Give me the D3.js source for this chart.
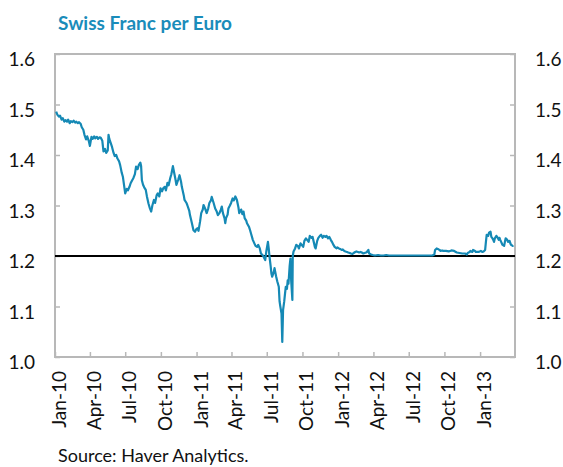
<!DOCTYPE html>
<html>
<head>
<meta charset="utf-8">
<script src="https://cdn.jsdelivr.net/npm/d3@7"></script>
<style>
  body { margin: 0; background: #fff; }
  svg { display: block; }
  text { font-family: Lato, "Open Sans", sans-serif; }
</style>
</head>
<body>
<svg width="563" height="467"></svg>
<script>
// EUR/CHF
const fx2010 = [
  ["2010-01-04",1.486],["2010-01-07",1.480],["2010-01-11",1.476],["2010-01-14",1.478],
  ["2010-01-18",1.470],["2010-01-21",1.473],["2010-01-25",1.466],["2010-01-28",1.469],
  ["2010-02-01",1.466],["2010-02-04",1.470],["2010-02-08",1.463],["2010-02-11",1.467],
  ["2010-02-15",1.465],["2010-02-18",1.468],["2010-02-22",1.464],["2010-02-25",1.466],
  ["2010-03-01",1.463],["2010-03-04",1.465],["2010-03-08",1.462],["2010-03-11",1.455],
  ["2010-03-15",1.450],["2010-03-18",1.440],["2010-03-22",1.431],["2010-03-25",1.437],
  ["2010-03-29",1.428],["2010-04-01",1.418],["2010-04-05",1.436],["2010-04-08",1.432],
  ["2010-04-12",1.437],["2010-04-15",1.433],["2010-04-19",1.436],["2010-04-22",1.432],
  ["2010-04-26",1.435],["2010-04-29",1.434],["2010-05-03",1.428],["2010-05-06",1.407],
  ["2010-05-10",1.412],["2010-05-13",1.404],["2010-05-17",1.409],["2010-05-19",1.440],
  ["2010-05-21",1.432],["2010-05-25",1.423],["2010-05-28",1.416],["2010-06-01",1.404],
  ["2010-06-04",1.398],["2010-06-08",1.400],["2010-06-11",1.393],["2010-06-15",1.388],
  ["2010-06-18",1.380],["2010-06-22",1.365],["2010-06-25",1.357],["2010-06-29",1.335],
  ["2010-07-01",1.324],["2010-07-05",1.333],["2010-07-08",1.330],["2010-07-12",1.337],
  ["2010-07-15",1.344],["2010-07-19",1.350],["2010-07-22",1.354],["2010-07-26",1.362],
  ["2010-07-29",1.377],["2010-08-02",1.372],["2010-08-05",1.380],["2010-08-09",1.385],
  ["2010-08-11",1.378],["2010-08-13",1.350],["2010-08-16",1.341],["2010-08-19",1.336],
  ["2010-08-23",1.331],["2010-08-26",1.318],["2010-08-30",1.304],["2010-09-02",1.296],
  ["2010-09-06",1.288],["2010-09-09",1.300],["2010-09-13",1.311],["2010-09-16",1.305],
  ["2010-09-20",1.320],["2010-09-23",1.324],["2010-09-27",1.318],["2010-09-30",1.334],
  ["2010-10-04",1.328],["2010-10-07",1.334],["2010-10-11",1.337],["2010-10-14",1.330],
  ["2010-10-18",1.345],["2010-10-21",1.340],["2010-10-25",1.354],["2010-10-28",1.362],
  ["2010-11-01",1.378],["2010-11-04",1.366],["2010-11-08",1.350],["2010-11-10",1.341],
  ["2010-11-15",1.352],["2010-11-18",1.360],["2010-11-22",1.347],["2010-11-24",1.337],
  ["2010-11-29",1.320],["2010-12-01",1.311],["2010-12-06",1.305],["2010-12-08",1.301],
  ["2010-12-13",1.290],["2010-12-15",1.281],["2010-12-20",1.265],["2010-12-24",1.251],
  ["2010-12-28",1.248],["2010-12-31",1.253]
];
const fx2011 = [
  ["2011-01-03",1.255],["2011-01-06",1.250],["2011-01-10",1.268],["2011-01-13",1.285],
  ["2011-01-17",1.292],["2011-01-19",1.301],["2011-01-24",1.292],["2011-01-27",1.285],
  ["2011-01-31",1.294],["2011-02-03",1.305],["2011-02-07",1.310],["2011-02-09",1.317],
  ["2011-02-14",1.305],["2011-02-18",1.294],["2011-02-22",1.288],["2011-02-25",1.281],
  ["2011-03-01",1.285],["2011-03-04",1.290],["2011-03-07",1.298],["2011-03-10",1.285],
  ["2011-03-14",1.275],["2011-03-16",1.265],["2011-03-18",1.275],["2011-03-22",1.282],
  ["2011-03-24",1.294],["2011-03-28",1.300],["2011-03-31",1.305],["2011-04-04",1.314],
  ["2011-04-07",1.310],["2011-04-11",1.318],["2011-04-15",1.311],["2011-04-19",1.296],
  ["2011-04-21",1.285],["2011-04-26",1.292],["2011-04-29",1.283],["2011-05-02",1.288],
  ["2011-05-05",1.275],["2011-05-09",1.270],["2011-05-11",1.265],["2011-05-16",1.258],
  ["2011-05-19",1.251],["2011-05-23",1.240],["2011-05-26",1.232],["2011-05-30",1.225],
  ["2011-06-02",1.220],["2011-06-06",1.218],["2011-06-09",1.222],["2011-06-13",1.215],
  ["2011-06-16",1.205],["2011-06-20",1.202],["2011-06-23",1.198],["2011-06-27",1.192],
  ["2011-06-30",1.210],["2011-07-04",1.228],["2011-07-06",1.215],["2011-07-08",1.199],
  ["2011-07-11",1.180],["2011-07-13",1.165],["2011-07-15",1.159],["2011-07-19",1.168],
  ["2011-07-21",1.176],["2011-07-25",1.160],["2011-07-28",1.150],["2011-08-01",1.139],
  ["2011-08-03",1.110],["2011-08-05",1.100],["2011-08-08",1.086],["2011-08-10",1.030],
  ["2011-08-12",1.093],["2011-08-15",1.110],["2011-08-17",1.125],["2011-08-19",1.139],
  ["2011-08-22",1.135],["2011-08-24",1.152],["2011-08-26",1.145],["2011-08-29",1.180],
  ["2011-08-31",1.195],["2011-09-02",1.150],["2011-09-05",1.113],["2011-09-06",1.200],
  ["2011-09-08",1.209],["2011-09-12",1.215],["2011-09-15",1.222],["2011-09-19",1.220],
  ["2011-09-22",1.215],["2011-09-26",1.225],["2011-09-29",1.222],["2011-10-03",1.218],
  ["2011-10-06",1.230],["2011-10-10",1.235],["2011-10-13",1.232],["2011-10-17",1.228],
  ["2011-10-20",1.240],["2011-10-24",1.236],["2011-10-27",1.238],["2011-10-31",1.225],
  ["2011-11-02",1.218],["2011-11-04",1.215],["2011-11-08",1.230],["2011-11-11",1.236],
  ["2011-11-15",1.240],["2011-11-18",1.242],["2011-11-22",1.236],["2011-11-25",1.240],
  ["2011-11-29",1.238],["2011-12-02",1.240],["2011-12-06",1.235],["2011-12-09",1.238],
  ["2011-12-13",1.232],["2011-12-16",1.228],["2011-12-20",1.222],["2011-12-23",1.218],
  ["2011-12-28",1.215],["2011-12-30",1.217]
];
const fx2012 = [
  ["2012-01-03",1.215],["2012-01-06",1.214],["2012-01-10",1.212],["2012-01-13",1.213],
  ["2012-01-17",1.210],["2012-01-20",1.209],["2012-01-24",1.208],["2012-01-27",1.207],
  ["2012-01-31",1.206],["2012-02-03",1.205],["2012-02-07",1.204],["2012-02-10",1.206],
  ["2012-02-14",1.208],["2012-02-17",1.209],["2012-02-21",1.208],["2012-02-24",1.207],
  ["2012-02-28",1.208],["2012-03-02",1.207],["2012-03-06",1.205],["2012-03-09",1.206],
  ["2012-03-13",1.207],["2012-03-15",1.208],["2012-03-19",1.212],["2012-03-21",1.205],
  ["2012-03-26",1.203],["2012-03-30",1.202],["2012-04-05",1.201],["2012-04-13",1.202],
  ["2012-04-20",1.201],["2012-04-27",1.201],["2012-05-04",1.202],["2012-05-11",1.201],
  ["2012-05-18",1.201],["2012-05-25",1.201],["2012-06-01",1.201],["2012-06-08",1.201],
  ["2012-06-15",1.201],["2012-06-22",1.201],["2012-06-29",1.201],["2012-07-06",1.201],
  ["2012-07-13",1.201],["2012-07-20",1.201],["2012-07-27",1.201],["2012-08-03",1.201],
  ["2012-08-10",1.201],["2012-08-17",1.201],["2012-08-24",1.201],["2012-08-31",1.201],
  ["2012-09-05",1.203],["2012-09-07",1.212],["2012-09-11",1.215],["2012-09-14",1.214],
  ["2012-09-18",1.212],["2012-09-21",1.210],["2012-09-25",1.211],["2012-09-28",1.210],
  ["2012-10-05",1.210],["2012-10-12",1.209],["2012-10-19",1.211],["2012-10-26",1.210],
  ["2012-11-02",1.207],["2012-11-09",1.206],["2012-11-16",1.205],["2012-11-23",1.205],
  ["2012-11-28",1.203],["2012-11-30",1.206],["2012-12-05",1.208],["2012-12-07",1.210],
  ["2012-12-12",1.208],["2012-12-14",1.212],["2012-12-19",1.210],["2012-12-21",1.208],
  ["2012-12-28",1.208]
];
const fx2013 = [
  ["2013-01-03",1.210],["2013-01-07",1.208],["2013-01-10",1.209],["2013-01-14",1.212],
  ["2013-01-16",1.228],["2013-01-18",1.242],["2013-01-22",1.240],["2013-01-24",1.246],
  ["2013-01-28",1.248],["2013-01-30",1.238],["2013-02-01",1.236],["2013-02-04",1.232],
  ["2013-02-06",1.228],["2013-02-08",1.235],["2013-02-12",1.240],["2013-02-14",1.238],
  ["2013-02-18",1.232],["2013-02-20",1.236],["2013-02-22",1.232],["2013-02-26",1.225],
  ["2013-02-28",1.222],["2013-03-04",1.220],["2013-03-06",1.228],["2013-03-08",1.235],
  ["2013-03-12",1.232],["2013-03-14",1.228],["2013-03-18",1.230],["2013-03-20",1.225],
  ["2013-03-22",1.222],["2013-03-26",1.220],["2013-03-28",1.221]
];

const xTickLabels = ["Jan-10","Apr-10","Jul-10","Oct-10","Jan-11","Apr-11","Jul-11",
  "Oct-11","Jan-12","Apr-12","Jul-12","Oct-12","Jan-13"];
const yTicks = [1.0, 1.1, 1.2, 1.3, 1.4, 1.5, 1.6];
const floorLevel = 1.2;

const parseDay = d3.timeParse("%Y-%m-%d");
const parseTick = d3.timeParse("%b-%y");
const series = fx2010.concat(fx2011, fx2012, fx2013)
  .map((d) => ({ date: parseDay(d[0]), rate: d[1] }));

const svg = d3.select("svg");
const margin = { top: 54, right: 48, bottom: 110, left: 55 };
const width = +svg.attr("width");
const height = +svg.attr("height");
const innerW = width - margin.left - margin.right;
const innerH = height - margin.top - margin.bottom;

const x = d3.scaleTime()
  .domain([new Date(2010, 0, 1), new Date(2013, 3, 1)])
  .range([0, innerW]);
const y = d3.scaleLinear().domain([1.0, 1.6]).range([innerH, 0]);

const grey = "#b8b8b8";
const blue = "#1589b5";

svg.append("text")
  .attr("x", 58).attr("y", 30)
  .attr("fill", "#1a8cba")
  .attr("font-weight", "bold")
  .attr("font-size", 19)
  .text("Swiss Franc per Euro");

const g = svg.append("g").attr("transform", `translate(${margin.left},${margin.top})`);

// frame
g.append("rect")
  .attr("width", innerW).attr("height", innerH)
  .attr("fill", "none").attr("stroke", grey).attr("stroke-width", 2);

// axes
const yLeft = g.append("g")
  .call(d3.axisLeft(y).tickValues(yTicks).tickSize(-5).tickPadding(20).tickFormat(d3.format(".1f")));
const yRight = g.append("g")
  .attr("transform", `translate(${innerW},0)`)
  .call(d3.axisRight(y).tickValues(yTicks).tickSize(-5).tickPadding(20).tickFormat(d3.format(".1f")));
[yLeft, yRight].forEach((a) => {
  a.select(".domain").remove();
  a.selectAll(".tick line").attr("stroke", grey).attr("stroke-width", 1.5);
  a.selectAll("text").attr("font-size", 19).attr("fill", "#111").attr("dy", "0.62em");
});

const xAxis = g.append("g")
  .attr("transform", `translate(0,${innerH})`)
  .call(d3.axisBottom(x).tickValues(xTickLabels.map(parseTick)).tickSize(-5).tickFormat(d3.timeFormat("%b-%y")));
xAxis.select(".domain").remove();
xAxis.selectAll(".tick line").attr("stroke", grey).attr("stroke-width", 1.5);
xAxis.selectAll("text")
  .attr("font-size", 19).attr("fill", "#111")
  .attr("transform", "rotate(-90)")
  .attr("text-anchor", "end")
  .attr("x", -14).attr("y", 0).attr("dy", "0.55em");

// 1.20 floor
g.append("line")
  .attr("x1", 0).attr("x2", innerW)
  .attr("y1", y(floorLevel)).attr("y2", y(floorLevel))
  .attr("stroke", "#000").attr("stroke-width", 2);

const line = d3.line().x((d) => x(d.date)).y((d) => y(d.rate));
g.append("path")
  .datum(series)
  .attr("fill", "none")
  .attr("stroke", blue)
  .attr("stroke-width", 2.2)
  .attr("stroke-linejoin", "round")
  .attr("d", line);

svg.append("text")
  .attr("x", 58).attr("y", 462)
  .attr("font-size", 18).attr("fill", "#111")
  .text("Source: Haver Analytics.");
</script>
</body>
</html>
